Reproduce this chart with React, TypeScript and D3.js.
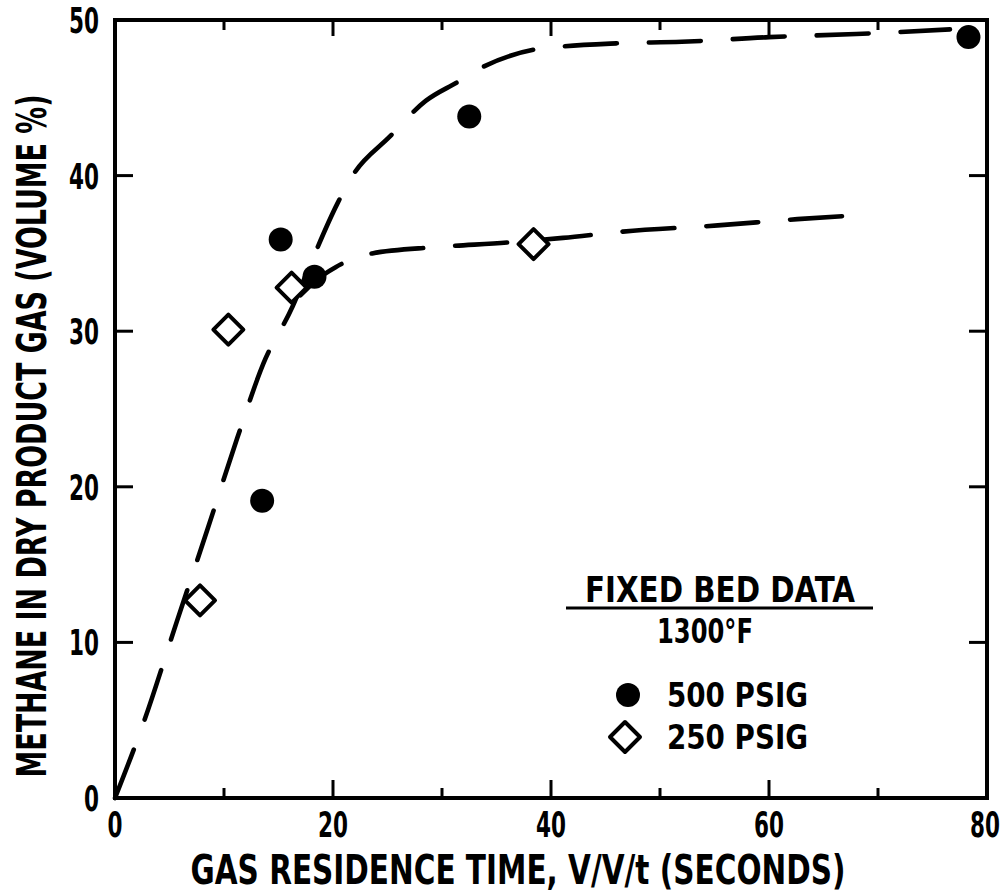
import React from "react";
import * as d3 from "d3";

// Measured points, 500 PSIG (filled circles): [residence time s, methane vol %]
const psig500Time = [13.5, 15.2, 18.3, 32.5, 78.3];
const psig500Methane = [19.1, 35.9, 33.5, 43.8, 48.9];

// Measured points, 250 PSIG (open diamonds)
const psig250Time = [7.8, 10.4, 16.2, 38.4];
const psig250Methane = [12.7, 30.1, 32.8, 35.6];

// Hand-drawn trend curves (dashed)
const upperCurveTime = [0, 2.6, 5.7, 8.5, 11.2, 13.6, 16.3, 17.8, 20.4, 21.8, 25.2, 28.5, 31.4, 33.8, 38.5, 41, 46, 52, 60, 68, 76.6];
const upperCurveMethane = [0, 4.8, 11.4, 17.3, 23.1, 27.9, 31.6, 34.1, 38.2, 40.0, 42.5, 44.8, 46.0, 47.0, 48.1, 48.3, 48.5, 48.6, 48.9, 49.1, 49.4];
const lowerCurveTime = [17, 18.5, 20.2, 23.6, 29.4, 36, 41.1, 46.6, 55.3, 62.6, 69.2];
const lowerCurveMethane = [32.3, 33.3, 34.1, 35.0, 35.4, 35.7, 36.0, 36.4, 36.8, 37.2, 37.5];

const xTicks = [0, 20, 40, 60, 80];
const yTicks = [0, 10, 20, 30, 40, 50];
const xMinorTicks = [10, 30, 50, 70];
const yInnerTicks = [10, 20, 30, 40];

const xTitle = "GAS RESIDENCE TIME, V/V/t (SECONDS)";
const yTitle = "METHANE IN DRY PRODUCT GAS (VOLUME %)";
const legendTitle = "FIXED BED DATA";
const legendSubtitle = "1300°F";
const legendLabels = ["500 PSIG", "250 PSIG"];

const W = 1005;
const H = 894;
const left = 115, right = 987, top = 20, bottom = 798;
const FONT = "'Liberation Sans Narrow', 'DejaVu Sans Condensed', 'Liberation Sans', sans-serif";
const INK = "#000";
const DIGIT_W = 15;

export default function App() {
  const x = d3.scaleLinear().domain([0, 80]).range([left, right]);
  const y = d3.scaleLinear().domain([0, 50]).range([bottom, top]);

  const line = d3
    .line<[number, number]>()
    .x((d) => x(d[0]))
    .y((d) => y(d[1]))
    .curve(d3.curveMonotoneX);

  const upper: [number, number][] = upperCurveTime.map((t, i) => [t, upperCurveMethane[i]]);
  const lower: [number, number][] = lowerCurveTime.map((t, i) => [t, lowerCurveMethane[i]]);

  const diamond = (cx: number, cy: number, r: number) =>
    `M${cx},${cy - r}L${cx + r},${cy}L${cx},${cy + r}L${cx - r},${cy}Z`;

  const dash = { strokeDasharray: "52 32", strokeWidth: 4.6, strokeLinecap: "round" as const };

  return (
    <svg
      width={W}
      height={H}
      viewBox={`0 0 ${W} ${H}`}
      style={{ position: "absolute", left: 0, top: 0, background: "#fff" }}
    >
      <rect x={0} y={0} width={W} height={H} fill="#fff" />

      {/* trend curves */}
      <path d={line(upper) || ""} fill="none" stroke={INK} {...dash} />
      <path d={line(lower) || ""} fill="none" stroke={INK} {...dash} />

      {/* frame */}
      <rect x={left} y={top} width={right - left} height={bottom - top} fill="none" stroke={INK} strokeWidth={4} />

      {/* x ticks, bottom and top, pointing inward */}
      {xTicks.slice(1, -1).map((t) => (
        <g key={"xt" + t}>
          <line x1={x(t)} x2={x(t)} y1={bottom} y2={bottom - 18} stroke={INK} strokeWidth={3} />
          <line x1={x(t)} x2={x(t)} y1={top} y2={top + 16} stroke={INK} strokeWidth={3} />
        </g>
      ))}
      {xMinorTicks.map((t) => (
        <g key={"xm" + t}>
          <line x1={x(t)} x2={x(t)} y1={bottom} y2={bottom - 10} stroke={INK} strokeWidth={3} />
          <line x1={x(t)} x2={x(t)} y1={top} y2={top + 10} stroke={INK} strokeWidth={3} />
        </g>
      ))}
      {/* y ticks, left and right, pointing inward */}
      {yInnerTicks.map((t) => (
        <g key={"yt" + t}>
          <line x1={left} x2={left + 18} y1={y(t)} y2={y(t)} stroke={INK} strokeWidth={3} />
          <line x1={right} x2={right - 18} y1={y(t)} y2={y(t)} stroke={INK} strokeWidth={3} />
        </g>
      ))}

      {/* tick labels */}
      {xTicks.map((t) => (
        <text
          key={"xl" + t}
          x={Math.min(x(t), 985)}
          y={837}
          textAnchor="middle"
          fontFamily={FONT}
          fontWeight="bold"
          fontSize={36}
          textLength={String(t).length * DIGIT_W}
          lengthAdjust="spacingAndGlyphs"
          fill={INK}
        >
          {t}
        </text>
      ))}
      {yTicks.map((t) => (
        <text
          key={"yl" + t}
          x={99}
          y={y(t) + 13}
          textAnchor="end"
          fontFamily={FONT}
          fontWeight="bold"
          fontSize={36}
          textLength={String(t).length * DIGIT_W}
          lengthAdjust="spacingAndGlyphs"
          fill={INK}
        >
          {t}
        </text>
      ))}

      {/* axis titles */}
      <text
        x={518}
        y={884}
        textAnchor="middle"
        fontFamily={FONT}
        fontWeight="bold"
        fontSize={40}
        textLength={655}
        lengthAdjust="spacingAndGlyphs"
        fill={INK}
      >
        {xTitle}
      </text>
      <text
        transform="translate(46,436) rotate(-90)"
        textAnchor="middle"
        fontFamily={FONT}
        fontWeight="bold"
        fontSize={40}
        textLength={683}
        lengthAdjust="spacingAndGlyphs"
        fill={INK}
      >
        {yTitle}
      </text>

      {/* data points */}
      {psig500Time.map((t, i) => (
        <circle key={"c" + i} cx={x(t)} cy={y(psig500Methane[i])} r={12} fill={INK} />
      ))}
      {psig250Time.map((t, i) => (
        <path
          key={"d" + i}
          d={diamond(x(t), y(psig250Methane[i]), 15)}
          fill="#fff"
          stroke={INK}
          strokeWidth={4}
          strokeLinejoin="round"
        />
      ))}

      {/* legend */}
      <text
        x={720}
        y={602}
        textAnchor="middle"
        fontFamily={FONT}
        fontWeight="bold"
        fontSize={35}
        textLength={270}
        lengthAdjust="spacingAndGlyphs"
        fill={INK}
      >
        {legendTitle}
      </text>
      <line x1={566} x2={873} y1={608} y2={608} stroke={INK} strokeWidth={3} />
      <text
        x={705}
        y={643}
        textAnchor="middle"
        fontFamily={FONT}
        fontWeight="bold"
        fontSize={34}
        textLength={96}
        lengthAdjust="spacingAndGlyphs"
        fill={INK}
      >
        {legendSubtitle}
      </text>
      <circle cx={628} cy={695} r={12} fill={INK} />
      <text
        x={667}
        y={707}
        fontFamily={FONT}
        fontWeight="bold"
        fontSize={34}
        textLength={141}
        lengthAdjust="spacingAndGlyphs"
        fill={INK}
      >
        {legendLabels[0]}
      </text>
      <path d={diamond(625, 737, 15)} fill="#fff" stroke={INK} strokeWidth={4} strokeLinejoin="round" />
      <text
        x={667}
        y={749}
        fontFamily={FONT}
        fontWeight="bold"
        fontSize={34}
        textLength={141}
        lengthAdjust="spacingAndGlyphs"
        fill={INK}
      >
        {legendLabels[1]}
      </text>
    </svg>
  );
}
